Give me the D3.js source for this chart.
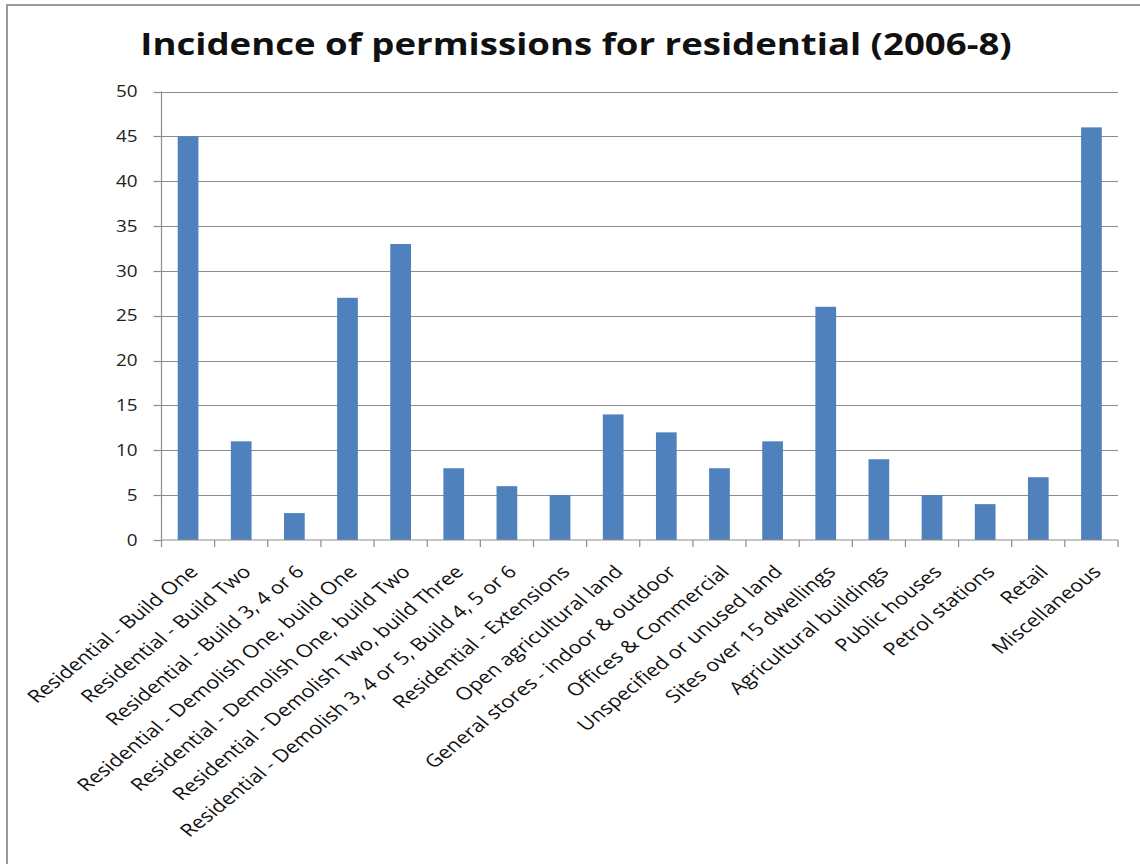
<!DOCTYPE html>
<html><head><meta charset="utf-8">
<script src="https://cdn.jsdelivr.net/npm/d3@7"></script>
<style>body{margin:0;background:#fff;}svg{display:block;}</style>
</head><body>
<svg id="c" width="1140" height="864"></svg>
<script>
const categories = ["Residential - Build One","Residential - Build Two","Residential - Build 3, 4 or 6","Residential - Demolish One, build One","Residential - Demolish One, build Two","Residential - Demolish Two, build Three","Residential - Demolish 3, 4 or 5, Build 4, 5 or 6","Residential - Extensions","Open agricultural land","General stores - indoor & outdoor","Offices & Commercial","Unspecified or unused land","Sites over 15 dwellings","Agricultural buildings","Public houses","Petrol stations","Retail","Miscellaneous"];
const values = [45,11,3,27,33,8,6,5,14,12,8,11,26,9,5,4,7,46];
const yTicks = [0,5,10,15,20,25,30,35,40,45,50];
const title = "Incidence of permissions for residential (2006-8)";

const svg = d3.select("#c");
const font = "'Open Sans', sans-serif";
const SX = 1.18; // horizontal stretch of the original picture
const SXL = 1.24;
svg.append("rect").attr("x",7).attr("y",5).attr("width",1140).attr("height",900)
  .attr("fill","#fff").attr("stroke","#9a9a9a").attr("stroke-width",2);

const L=161.5, R=1118, T=91.5, B=540;
const x = d3.scaleBand().domain(categories).range([L,R]).paddingInner(0.61).paddingOuter(0.305);
const xb = d3.scaleBand().domain(categories).range([L,R]);
const y = d3.scaleLinear().domain([0,50]).range([B,T]);

svg.append("text").attr("transform",`translate(576,55) scale(${SX},1)`).attr("text-anchor","middle")
  .attr("font-family",font).attr("font-weight","bold").attr("font-size",31).attr("fill","#111").text(title);

// gridlines
svg.append("g").selectAll("line").data(yTicks.filter(d=>d>0)).join("line")
  .attr("x1",L).attr("x2",R).attr("y1",d=>Math.round(y(d))+0.5).attr("y2",d=>Math.round(y(d))+0.5)
  .attr("stroke","#8c8c8c").attr("stroke-width",1.2);

// y axis
const ya = svg.append("g");
ya.append("line").attr("x1",L).attr("x2",L).attr("y1",T).attr("y2",B).attr("stroke","#8c8c8c").attr("stroke-width",1.2);
ya.selectAll("line.t").data(yTicks).join("line").attr("class","t")
  .attr("x1",L-8).attr("x2",L).attr("y1",d=>Math.round(y(d))+0.5).attr("y2",d=>Math.round(y(d))+0.5)
  .attr("stroke","#8c8c8c").attr("stroke-width",1.2);
ya.selectAll("text").data(yTicks).join("text")
  .attr("transform",d=>`translate(${L-24},${y(d)}) scale(${SX},1)`).attr("dy","0.35em")
  .attr("text-anchor","end").attr("font-family",font).attr("font-size",16).attr("fill","#222").text(d=>d);

// bars
svg.append("g").selectAll("rect").data(values).join("rect")
  .attr("x",(d,i)=>x(categories[i])).attr("width",x.bandwidth())
  .attr("y",d=>y(d)).attr("height",d=>B-y(d)).attr("fill","#4f81bd");

// x axis
const xa = svg.append("g").attr("transform",`translate(0,${B})`);
xa.append("line").attr("x1",L).attr("x2",R).attr("y1",0).attr("y2",0).attr("stroke","#8c8c8c").attr("stroke-width",1.2);
const bounds = categories.map(c=>xb(c)).concat([R]);
xa.selectAll("line.t").data(bounds).join("line").attr("class","t")
  .attr("x1",d=>d).attr("x2",d=>d).attr("y1",0).attr("y2",7).attr("stroke","#8c8c8c").attr("stroke-width",1.2);
xa.selectAll("text").data(categories).join("text")
  .attr("transform",d=>`translate(${xb(d)+xb.bandwidth()/2+11},${33}) scale(${SXL},1) rotate(-45)`)
  .attr("text-anchor","end")
  .attr("font-family",font).attr("font-size",17.6).attr("fill","#111").text(d=>d);
</script>
</body></html>
